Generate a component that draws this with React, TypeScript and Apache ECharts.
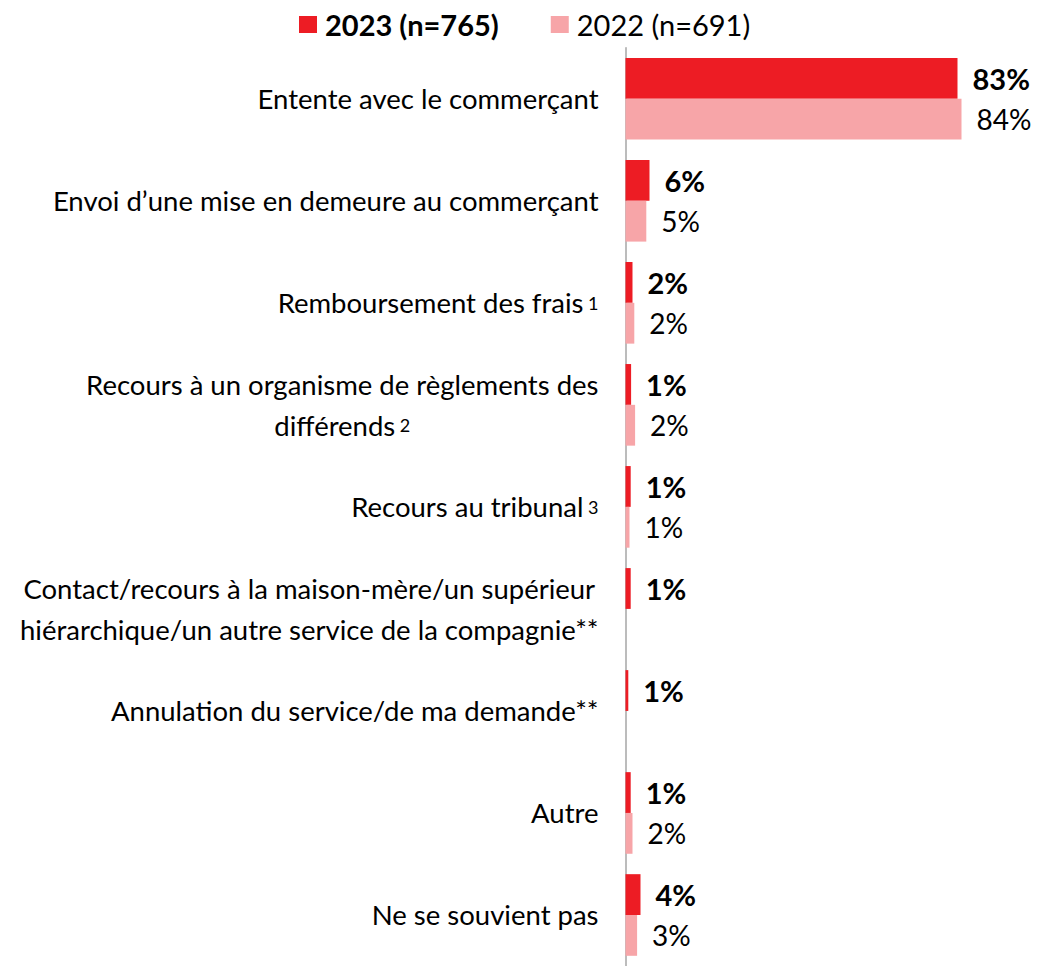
import React, { useEffect, useRef } from "react";
import * as echarts from "echarts";

const categories = [
  "Entente avec le commerçant",
  "Envoi d’une mise en demeure au commerçant",
  "Remboursement des frais",
  "Recours à un organisme de règlements des\ndifférends",
  "Recours au tribunal",
  "Contact/recours à la maison-mère/un supérieur\nhiérarchique/un autre service de la compagnie**",
  "Annulation du service/de ma demande**",
  "Autre",
  "Ne se souvient pas",
];
const footnotes = ["", "", "1", "2", "3", "", "", "", ""];

const series2023Name = "2023 (n=765)";
const series2022Name = "2022 (n=691)";

// Values (labels show rounded values)
const values2023 = [83, 6, 1.75, 1.4, 1.3, 1.3, 0.7, 1.3, 3.75];
const values2022: (number | null)[] = [84, 5.2, 2.2, 2.4, 1.0, null, null, 1.75, 2.9];

const FONT = "Lato";
const RED = "#ED1C24";
const PINK = "#F7A5A8";

export default function App() {
  const ref = useRef<HTMLDivElement>(null);
  useEffect(() => {
    if (!ref.current) return;
    const chart = echarts.init(ref.current, null, { renderer: "svg" });
    chart.setOption({
      animation: false,
      backgroundColor: "#ffffff",
      legend: {
        left: 299,
        top: 10,
        padding: 0,
        itemWidth: 18,
        itemHeight: 17,
        itemGap: 52,
        icon: "rect",
        selectedMode: false,
        textStyle: { fontFamily: FONT, fontSize: 29, color: "#000", padding: [0, 0, 0, 3] },
        data: [
          { name: series2023Name, textStyle: { fontWeight: "bold" } },
          { name: series2022Name },
        ],
      },
      grid: { left: 625.5, top: 47.75, width: 400, height: 922.5, containLabel: false },
      xAxis: {
        type: "value",
        min: 0,
        max: 100,
        show: false,
        splitLine: { show: false },
      },
      yAxis: {
        type: "category",
        inverse: true,
        data: categories,
        axisTick: { show: false },
        axisLine: { show: true, lineStyle: { color: "#A6A6A6", width: 1.5 } },
        axisLabel: {
          margin: 27,
          color: "#000",
          fontFamily: FONT,
          fontSize: 27.5,
          lineHeight: 41,
          formatter: (value: string, index: number) => {
            const lines = value.split("\n");
            const fn = footnotes[index];
            return lines
              .map((l, i) => {
                let s = `{c|${l}}`;
                if (i === lines.length - 1 && fn) s += `{f| ${fn}}`;
                return s;
              })
              .join("\n");
          },
          rich: {
            c: { fontFamily: FONT, fontSize: 27.5, color: "#000", align: "center", lineHeight: 41 },
            f: { fontFamily: FONT, fontSize: 18, color: "#000", align: "center", lineHeight: 41 },
          },
        },
      },
      series: [
        {
          name: series2023Name,
          type: "bar",
          data: values2023,
          barGap: "0%",
          barCategoryGap: "20%",
          itemStyle: { color: RED },
          label: {
            show: true,
            position: "right",
            distance: 15,
            fontFamily: FONT,
            fontSize: 29,
            fontWeight: "bold",
            color: "#000",
            formatter: (p: any) => `${Math.round(p.value)}%`,
          },
        },
        {
          name: series2022Name,
          type: "bar",
          data: values2022,
          barGap: "0%",
          barCategoryGap: "20%",
          itemStyle: { color: PINK },
          label: {
            show: true,
            position: "right",
            distance: 15,
            fontFamily: FONT,
            fontSize: 28,
            color: "#000",
            formatter: (p: any) => (p.value == null ? "" : `${Math.round(p.value)}%`),
          },
        },
      ],
    });
    return () => chart.dispose();
  }, []);
  return (
    <div
      ref={ref}
      style={{ position: "fixed", left: 0, top: 0, width: 1038, height: 966, background: "#fff" }}
    />
  );
}
